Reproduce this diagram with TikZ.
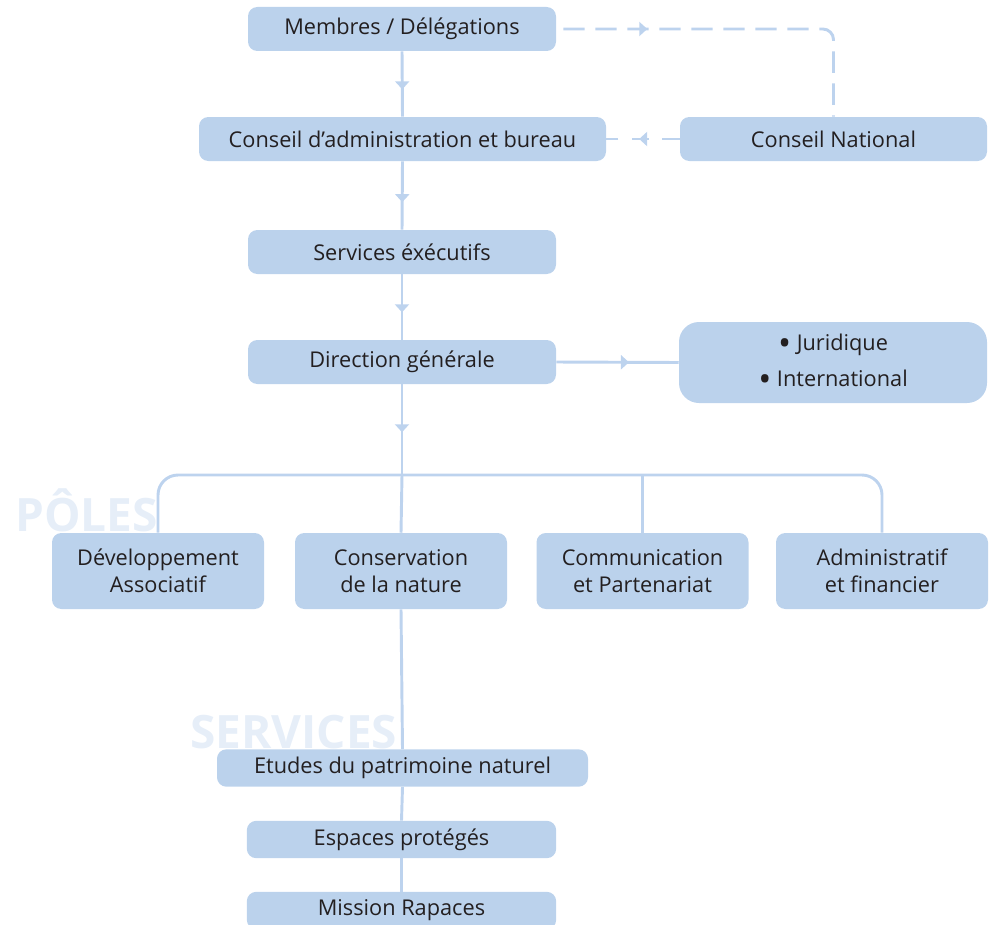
\documentclass[tikz,border=0pt]{standalone}
\usepackage{fontspec}
\setmainfont{Open Sans}
\usetikzlibrary{arrows.meta,decorations.markings}
\definecolor{boxblue}{HTML}{BBD2EC}
\definecolor{linkblue}{HTML}{BDD3EE}
\definecolor{txt}{HTML}{231F20}
\definecolor{ghost}{HTML}{E6EEF8}
\newcommand{\bigbul}{\raisebox{-0.22em}{\scalebox{1.6}{\textbullet}}}
\begin{document}
\begin{tikzpicture}[x=0.75pt,y=-0.75pt,
  box/.style={fill=boxblue, rounded corners=7pt, text=txt, inner sep=0pt, align=center,
    font=\fontsize{16.3}{20.3}\selectfont, minimum height=33pt, minimum width=231pt},
  pole/.style={box, minimum width=159pt, minimum height=57pt},
  svc/.style={box, minimum height=28pt, minimum width=232pt},
  link/.style={draw=linkblue, line width=2.2pt},
  dashlink/.style={link, dash pattern=on 16pt off 8pt},
  midarrow/.style={postaction={decorate}, decoration={markings,
    mark=at position #1 with {\arrow[xshift=4pt]{Triangle[width=10.5pt,length=6pt]}}}},
  ghosttext/.style={text=ghost, font=\fontsize{34.5}{36}\selectfont\bfseries, inner sep=0pt, anchor=base west},
]
\useasboundingbox (0,0) rectangle (991,924);

% ghost labels
\node[ghosttext] (poles) at (15,531) {PÔLES};
\node[ghosttext] (services) at (190,748) {SERVICES};

% boxes
\node[box] (mem) at (402,29) {Membres / Délégations};
\node[box, minimum width=305.25pt] (ca) at (402.5,139) {Conseil d’administration et bureau};
\node[box, minimum width=230.25pt] (cn) at (833.5,139) {Conseil National};
\node[box] (se) at (402,252) {Services éxécutifs};
\node[box] (dir) at (402,362) {Direction générale};
\node[box, rounded corners=15pt, minimum height=60.75pt, font=\fontsize{16.3}{27}\selectfont] (jur) at (833,362.5)
  {\bigbul\ Juridique\\\bigbul\ International};
\coordinate (bar) at (402,475);
\node[pole] (dev) at (158,571) {Développement\\Associatif};
\node[pole] (cons) at (401,571) {Conservation\\de la nature};
\node[pole] (comm) at (642.5,571) {Communication\\et Partenariat};
\node[pole] (adm) at (882,571) {Administratif\\et financier};
\node[svc, minimum width=278.25pt] (etu) at (402.5,768) {Etudes du patrimoine naturel};
\node[svc] (esp) at (401.5,839.5) {Espaces protégés};
\node[svc] (mis) at (401.5,910.5) {Mission Rapaces};

% connectors
\draw[link, midarrow=0.5] (mem.south) -- (ca.north);
\draw[link, midarrow=0.52] (ca.south) -- (se.north);
\draw[link, midarrow=0.5] (se.south) -- (dir.north);
\draw[link, midarrow=0.47] (dir.south) -- (bar);
\draw[link, midarrow=0.55] (dir.east) -- (jur.west);
\draw[dashlink, rounded corners=8pt, midarrow=59pt] ([xshift=5.25pt]mem.east) -| (cn.north);
\draw[dashlink, dash pattern=on 13pt off 10pt, midarrow=0.48] (cn.west) -- (ca.east);
\draw[link, rounded corners=15pt] (dev.north) -- (dev.north |- bar) -- (adm.north |- bar) -- (adm.north);
\draw[link] (bar) -- (cons.north);
\draw[link] (comm.north |- bar) -- (comm.north);
\draw[link] (cons.south) -- (etu.north);
\draw[link] (etu.south) -- (esp.north);
\draw[link] (esp.south) -- (mis.north);
\end{tikzpicture}
\end{document}
